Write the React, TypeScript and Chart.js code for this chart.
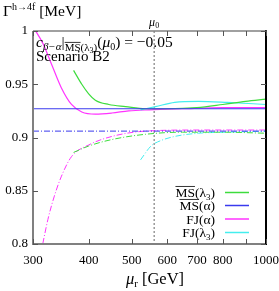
import React, { useEffect, useRef } from 'react';
import { Chart, registerables } from 'chart.js';
Chart.register(...registerables);

const MU0 = 561;
const X_TICKS = [300, 400, 500, 600, 700, 800, 900, 1000];
const X_LABELS = ['300', '400', '500', '600', '700', '800', '', '1000'];
const Y_TICKS = [0.8, 0.85, 0.9, 0.95, 1];
const Y_LABELS = ['0.8', '0.85', '0.9', '0.95', '1'];

// MSbar(lambda3)
const msL3SolidX = [370, 386, 400, 414, 444, 484, 536, 600, 700, 800, 900, 1000];
const msL3SolidY = [0.963, 0.95, 0.941, 0.935, 0.931, 0.929, 0.927, 0.927, 0.928, 0.931, 0.934, 0.936];
const msL3DashX = [370, 400, 450, 536, 650, 800, 1000];
const msL3DashY = [0.886, 0.892, 0.898, 0.903, 0.905, 0.905, 0.904];
// MSbar(alpha)
const msASolidX = [300, 1000];
const msASolidY = [0.927, 0.927];
const msADashX = [300, 1000];
const msADashY = [0.906, 0.906];
// FJ(alpha)
const fjASolidX = [300, 316, 330, 347, 366, 386, 414, 451, 492, 547, 650, 800, 1000];
const fjASolidY = [1.004, 0.988, 0.969, 0.947, 0.931, 0.924, 0.922, 0.923, 0.925, 0.926, 0.927, 0.928, 0.928];
const fjADashX = [312, 324, 335, 347, 366, 400, 451, 536, 700, 1000];
const fjADashY = [0.79, 0.823, 0.845, 0.863, 0.882, 0.893, 0.901, 0.906, 0.907, 0.907];
// FJ(lambda3)
const fjL3SolidX = [523, 565, 624, 705, 819, 1000];
const fjL3SolidY = [0.926, 0.929, 0.933, 0.934, 0.933, 0.931];
const fjL3DashX = [523, 552, 580, 624, 705, 819, 1000];
const fjL3DashY = [0.879, 0.892, 0.897, 0.901, 0.904, 0.905, 0.906];

const GREEN = '#3ddc3d';
const BLUE = '#3a3aee';
const MAGENTA = '#ff33ff';
const CYAN = '#44eeee';
const FF = '"Liberation Serif", serif';

const pts = (xs: number[], ys: number[]) => xs.map((x, i) => ({ x, y: ys[i] }));

type Seg = { t: string; size?: number; dy?: number; italic?: boolean; over?: boolean };

function rich(ctx: CanvasRenderingContext2D, segs: Seg[], x: number, y: number, align: string, base: number) {
  const fontOf = (s: Seg) => `${s.italic ? 'italic ' : ''}${s.size || base}px ${FF}`;
  let w = 0;
  const ws: number[] = [];
  segs.forEach((s) => {
    ctx.font = fontOf(s);
    const m = ctx.measureText(s.t).width;
    ws.push(m);
    w += m;
  });
  let cx = align === 'left' ? x : align === 'right' ? x - w : x - w / 2;
  ctx.textBaseline = 'alphabetic';
  ctx.textAlign = 'left';
  segs.forEach((s, i) => {
    ctx.font = fontOf(s);
    const yy = y + (s.dy || 0);
    ctx.fillText(s.t, cx, yy);
    if (s.over) {
      const sz = s.size || base;
      ctx.beginPath();
      ctx.lineWidth = 0.8;
      ctx.moveTo(cx, yy - sz * 0.78);
      ctx.lineTo(cx + ws[i], yy - sz * 0.78);
      ctx.stroke();
    }
    cx += ws[i];
  });
}

const decor = {
  id: 'decor',
  beforeDatasetsDraw(chart: any) {
    const ctx = chart.ctx as CanvasRenderingContext2D;
    const { top, bottom } = chart.chartArea;
    const xs = chart.scales.x;
    const px = xs.getPixelForValue(MU0);
    ctx.save();
    ctx.strokeStyle = '#666';
    ctx.lineWidth = 1;
    ctx.setLineDash([2, 2]);
    ctx.beginPath();
    ctx.moveTo(px, top);
    ctx.lineTo(px, bottom);
    ctx.stroke();
    ctx.restore();
  },
  afterDatasetsDraw(chart: any) {
    const ctx = chart.ctx as CanvasRenderingContext2D;
    const { left, right, top, bottom } = chart.chartArea;
    const xs = chart.scales.x;
    const ys = chart.scales.y;
    ctx.save();
    // frame
    ctx.lineWidth = 2;
    ctx.strokeStyle = '#808080';
    ctx.beginPath();
    ctx.moveTo(left, top);
    ctx.lineTo(left, bottom);
    ctx.lineTo(right, bottom);
    ctx.stroke();
    ctx.lineWidth = 1.5;
    ctx.beginPath();
    ctx.moveTo(left, top);
    ctx.lineTo(right, top);
    ctx.stroke();
    ctx.strokeStyle = '#000';
    ctx.lineWidth = 2;
    ctx.beginPath();
    ctx.moveTo(right, top - 0.75);
    ctx.lineTo(right, bottom + 1);
    ctx.stroke();
    // ticks
    ctx.lineWidth = 1;
    ctx.strokeStyle = '#555';
    X_TICKS.forEach((v) => {
      const p = Math.round(xs.getPixelForValue(v)) + 0.5;
      ctx.beginPath();
      ctx.moveTo(p, bottom);
      ctx.lineTo(p, bottom - 5);
      ctx.moveTo(p, top);
      ctx.lineTo(p, top + 5);
      ctx.stroke();
    });
    Y_TICKS.forEach((v) => {
      const p = Math.round(ys.getPixelForValue(v)) + 0.5;
      ctx.beginPath();
      ctx.moveTo(left, p);
      ctx.lineTo(left + 5, p);
      ctx.moveTo(right, p);
      ctx.lineTo(right - 5, p);
      ctx.stroke();
    });
    // texts
    ctx.fillStyle = '#000';
    ctx.strokeStyle = '#000';
    const px = xs.getPixelForValue(MU0);
    rich(ctx, [{ t: 'Γ' }, { t: 'h→4f', size: 10, dy: -6 }, { t: ' [MeV]' }], 3, 16, 'left', 15.5);
    rich(ctx, [{ t: 'μ', italic: true }, { t: '0', size: 8, dy: 2 }], px, 26, 'center', 12);
    rich(ctx, [{ t: 'μ', italic: true }, { t: 'r', size: 11, dy: 3 }, { t: ' [GeV]' }], 155, 284, 'center', 16.5);
    rich(
      ctx,
      [
        { t: 'c', italic: true },
        { t: 'β−α', size: 11, dy: 3, italic: true },
        { t: '|' },
        { t: 'MS', size: 11, dy: 4, over: true },
        { t: '(λ', size: 11, dy: 4 },
        { t: '3', size: 8, dy: 6 },
        { t: ')', size: 11, dy: 4 },
        { t: '(' },
        { t: 'μ', italic: true },
        { t: '0', size: 10, dy: 3 },
        { t: ') = −0.05' },
      ],
      36,
      47,
      'left',
      15.5
    );
    rich(ctx, [{ t: 'Scenario B2' }], 36, 61, 'left', 15);
    // legend
    const rows: [Seg[], string][] = [
      [[{ t: 'MS', over: true }, { t: '(λ' }, { t: '3', size: 9, dy: 3 }, { t: ')' }], GREEN],
      [[{ t: 'MS', over: true }, { t: '(α)' }], BLUE],
      [[{ t: 'FJ(α)' }], MAGENTA],
      [[{ t: 'FJ(λ' }, { t: '3', size: 9, dy: 3 }, { t: ')' }], CYAN],
    ];
    const rowY = [192.5, 205.5, 219, 232.5];
    rows.forEach(([segs, col], i) => {
      ctx.fillStyle = '#000';
      ctx.strokeStyle = '#000';
      rich(ctx, segs, 215, rowY[i] + 4.5, 'right', 13.5);
      ctx.strokeStyle = col;
      ctx.lineWidth = 1.5;
      ctx.beginPath();
      ctx.moveTo(225, rowY[i]);
      ctx.lineTo(249, rowY[i]);
      ctx.stroke();
    });
    ctx.restore();
  },
};

export default function App() {
  const ref = useRef<HTMLCanvasElement>(null);
  useEffect(() => {
    if (!ref.current) return;
    const DD = [6, 2, 1, 2];
    const ds = (label: string, xs: number[], ys: number[], color: string, dashed: boolean) => ({
      label,
      data: pts(xs, ys),
      borderColor: color,
      backgroundColor: color,
      borderWidth: dashed ? 1 : 1.2,
      borderDash: dashed ? DD : [],
      pointRadius: 0,
      fill: false,
      cubicInterpolationMode: 'monotone' as const,
    });
    const chart = new Chart(ref.current, {
      type: 'line',
      data: {
        datasets: [
          ds('MS(α)', msASolidX, msASolidY, BLUE, false),
          ds('MS(α) dash', msADashX, msADashY, BLUE, true),
          ds('MS(λ3)', msL3SolidX, msL3SolidY, GREEN, false),
          ds('MS(λ3) dash', msL3DashX, msL3DashY, GREEN, true),
          ds('FJ(λ3)', fjL3SolidX, fjL3SolidY, CYAN, false),
          ds('FJ(λ3) dash', fjL3DashX, fjL3DashY, CYAN, true),
          ds('FJ(α)', fjASolidX, fjASolidY, MAGENTA, false),
          ds('FJ(α) dash', fjADashX, fjADashY, MAGENTA, true),
        ] as any,
      },
      options: {
        animation: false,
        responsive: false,
        layout: { padding: { top: 31, right: 13, left: 0, bottom: 0 } },
        plugins: { legend: { display: false }, tooltip: { enabled: false } },
        scales: {
          x: {
            type: 'logarithmic',
            min: 300,
            max: 1000,
            afterBuildTicks: (s: any) => {
              s.ticks = X_TICKS.map((v) => ({ value: v }));
            },
            afterFit: (s: any) => {
              s.height = 47;
              s.paddingLeft = 0;
              s.paddingRight = 0;
            },
            ticks: {
              autoSkip: false,
              maxRotation: 0,
              padding: 9,
              color: '#000',
              font: { family: FF, size: 13 },
              callback: (v: any) => X_LABELS[X_TICKS.indexOf(Number(v))] ?? '',
            },
            grid: { display: false, drawTicks: false },
            border: { display: false },
          },
          y: {
            type: 'linear',
            min: 0.8,
            max: 1,
            afterBuildTicks: (s: any) => {
              s.ticks = Y_TICKS.map((v) => ({ value: v }));
            },
            afterFit: (s: any) => {
              s.width = 33;
              s.paddingTop = 0;
              s.paddingBottom = 0;
            },
            ticks: {
              autoSkip: false,
              padding: 5,
              color: '#000',
              font: { family: FF, size: 13 },
              callback: (v: any) => {
                const i = Y_TICKS.findIndex((t) => Math.abs(t - Number(v)) < 1e-9);
                return i >= 0 ? Y_LABELS[i] : '';
              },
            },
            grid: { display: false, drawTicks: false },
            border: { display: false },
          },
        },
      },
      plugins: [decor],
    });
    return () => chart.destroy();
  }, []);
  return (
    <div style={{ position: 'fixed', left: 0, top: 0, width: 279, height: 291, background: '#fff' }}>
      <canvas ref={ref} width={279} height={291} style={{ width: 279, height: 291 }} />
    </div>
  );
}
